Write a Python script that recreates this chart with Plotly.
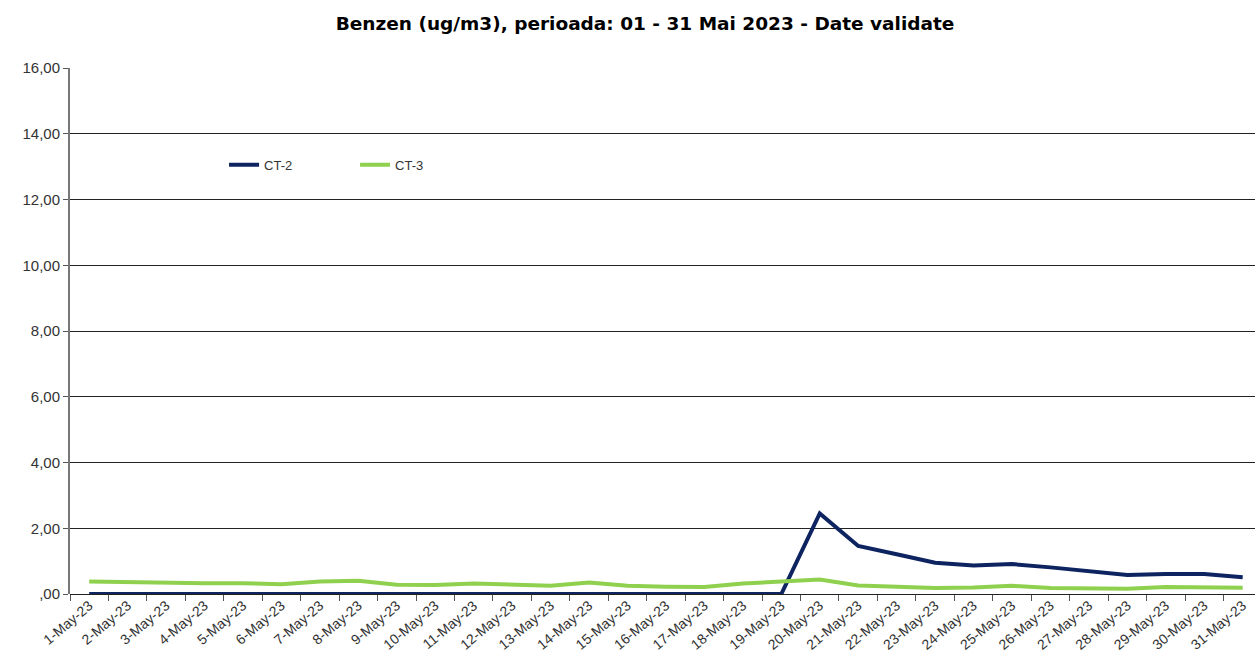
import plotly.graph_objects as go

days = [f"{d}-May-23" for d in range(1, 32)]
ct2 = [0.0]*19 + [2.45, 1.46, 1.21, 0.95, 0.87, 0.91, 0.81, 0.70, 0.58, 0.61, 0.61, 0.51]
ct3 = [0.38, 0.36, 0.33, 0.33, 0.33, 0.30, 0.38, 0.40, 0.28, 0.27,
       0.32, 0.30, 0.25, 0.35, 0.25, 0.22, 0.21, 0.32, 0.37, 0.44,
       0.26, 0.22, 0.18, 0.20, 0.25, 0.18, 0.16, 0.16, 0.21, 0.19, 0.19]
y_ticks = [0, 2, 4, 6, 8, 10, 12, 14, 16]
y_labels = [",00", "2,00", "4,00", "6,00", "8,00", "10,00", "12,00", "14,00", "16,00"]

fig = go.Figure()
fig.add_trace(go.Scatter(x=days, y=ct2, mode="lines", name="CT-2",
                         line=dict(color="#0d2461", width=4)))
fig.add_trace(go.Scatter(x=days, y=ct3, mode="lines", name="CT-3",
                         line=dict(color="#8fd14f", width=4)))

fig.update_layout(
    width=1255, height=658,
    margin=dict(l=70, r=0, t=68, b=64),
    paper_bgcolor="white", plot_bgcolor="white",
    title=dict(text="<b>Benzen (ug/m3), perioada: 01 - 31 Mai 2023 - Date validate</b>",
               x=0.514, xanchor="center", y=0.965, yanchor="middle",
               font=dict(family="DejaVu Sans", size=18.5, color="black")),
    showlegend=True,
    legend=dict(orientation="h", x=0.13, y=0.816, xanchor="left", yanchor="middle",
                font=dict(family="Liberation Sans", size=13, color="#333"),
                bgcolor="rgba(0,0,0,0)", itemwidth=30, traceorder="normal",
                tracegroupgap=0, entrywidth=86),
    font=dict(family="Liberation Sans", color="#333"),
)
fig.update_xaxes(
    type="category", range=[-0.5, 30.32], tickangle=-40,
    tickson="boundaries", ticks="outside", ticklen=6, tickcolor="#555",
    showgrid=False, showline=False, zeroline=False, automargin=False,
    tickfont=dict(family="Liberation Sans", size=14, color="#333"),
)
fig.update_yaxes(
    range=[0, 16], tickvals=y_ticks, ticktext=y_labels,
    showgrid=True, gridcolor="#222", gridwidth=1,
    showline=True, linecolor="#777", linewidth=2,
    ticks="outside", ticklen=5, tickcolor="#555",
    zeroline=True, zerolinecolor="#222", zerolinewidth=1,
    tickfont=dict(family="Liberation Sans", size=15, color="#333"),
)

fig.write_html("out.html", config={"displayModeBar": False},
               post_script="document.body.style.margin='0';document.body.style.overflow='hidden';")
